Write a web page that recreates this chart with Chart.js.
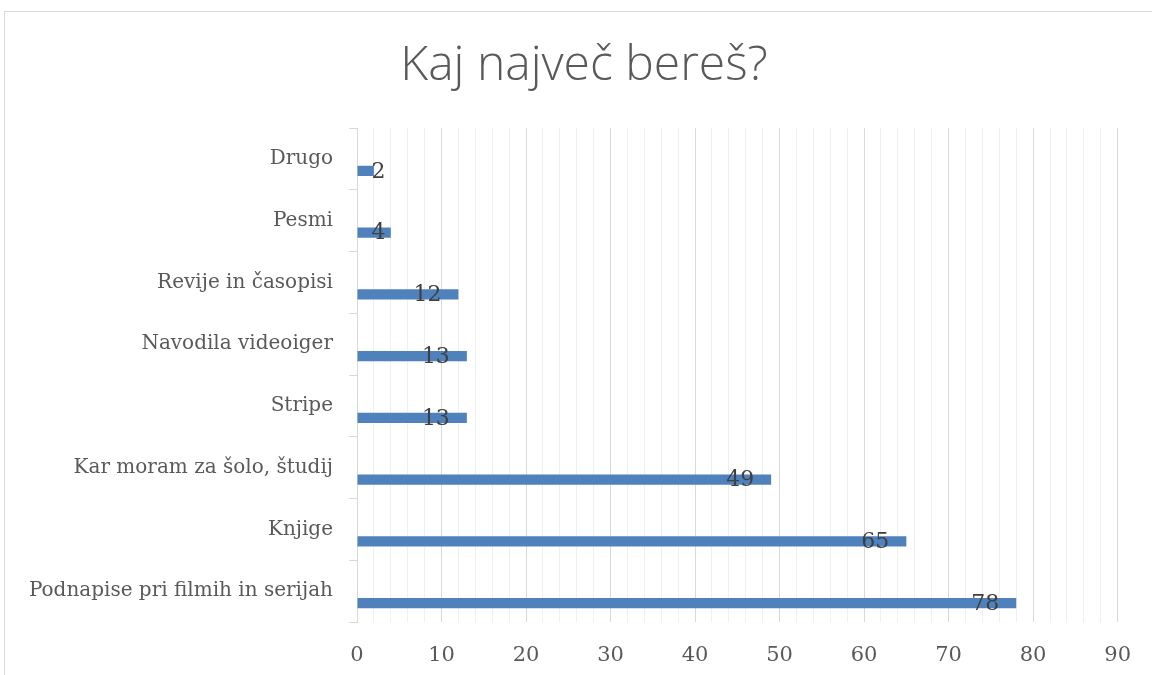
<!DOCTYPE html>
<html>
<head>
<meta charset="utf-8">
<title>Kaj največ bereš?</title>
<script src="https://cdn.jsdelivr.net/npm/chart.js@4.4.0/dist/chart.umd.min.js"></script>
<style>
	html, body { margin: 0; padding: 0; background: #fff; overflow: hidden; }
	#okvir {
		position: absolute; left: 4px; top: 11px; width: 1200px; height: 700px;
		border: 1px solid #d9d9d9;
	}
	#wrap { position: absolute; left: 0; top: 0; width: 1152px; height: 675px; }
</style>
</head>
<body>
<div id="okvir"></div>
<div id="wrap"><canvas id="graf"></canvas></div>
<script>
	// podatki
	var naslov = "Kaj največ bereš?";
	var kategorije = ["Drugo", "Pesmi", "Revije in časopisi", "Navodila videoiger", "Stripe",
		"Kar moram za šolo, študij", "Knjige", "Podnapise pri filmih in serijah"];
	var vrednosti = [2, 4, 12, 13, 13, 49, 65, 78];
	var prazno = [null, null, null, null, null, null, null, null];

	// naslov (sredina okvirja, ne grafa)
	var naslovPlugin = {
		id: "naslov",
		afterDraw: function (chart) {
			var ctx = chart.ctx;
			ctx.save();
			ctx.font = "300 48px 'Open Sans'";
			ctx.fillStyle = "#595959";
			ctx.textAlign = "center";
			ctx.textBaseline = "alphabetic";
			ctx.fillText(naslov, 584, 80);
			ctx.restore();
		}
	};

	// oznake vrednosti na koncu stolpca
	var oznake = {
		id: "oznake",
		afterDatasetsDraw: function (chart) {
			var ctx = chart.ctx;
			var meta = chart.getDatasetMeta(1);
			ctx.save();
			ctx.font = "22px 'DejaVu Serif'";
			ctx.fillStyle = "#404040";
			ctx.textBaseline = "middle";
			ctx.textAlign = "left";
			meta.data.forEach(function (bar, i) {
				var txt = String(vrednosti[i]);
				var w = ctx.measureText(txt).width;
				var x = bar.x - 17 - w;
				if (x < bar.base + 14) x = bar.base + 14;
				ctx.fillText(txt, x, bar.y + 1);
			});
			ctx.restore();
		}
	};

	new Chart(document.getElementById("graf"), {
		type: "bar",
		data: {
			labels: kategorije,
			datasets: [
				{ label: "", data: prazno, backgroundColor: "#4f81bd" },
				{ label: "Število", data: vrednosti, backgroundColor: "#4f81bd" }
			]
		},
		options: {
			indexAxis: "y",
			responsive: true,
			maintainAspectRatio: false,
			animation: false,
			datasets: { bar: { categoryPercentage: 0.78, barPercentage: 0.42 } },
			layout: { padding: { left: 0, right: 34, top: 128, bottom: 0 } },
			plugins: {
				legend: { display: false },
				tooltip: { enabled: false },
				title: { display: false }
			},
			scales: {
				x: {
					min: 0, max: 90,
					afterFit: function (s) { s.height = 53; },
					ticks: {
						stepSize: 2,
						autoSkip: false,
						maxRotation: 0,
						padding: 21,
						color: "#595959",
						font: { family: "'DejaVu Serif'", size: 21 },
						callback: function (v) { return v % 10 === 0 ? v : ""; }
					},
					grid: {
						drawTicks: false,
						color: function (c) {
							return (c.tick && c.tick.value % 10 === 0) ? "#d9d9d9" : "#f0f0f0";
						}
					},
					border: { display: false }
				},
				y: {
					afterFit: function (s) { s.width = 357; },
					ticks: {
						padding: 16,
						color: "#595959",
						font: { family: "'DejaVu Serif'", size: 20 }
					},
					grid: { drawOnChartArea: false, tickLength: 8, color: "#d9d9d9" },
					border: { display: true, color: "#d9d9d9" }
				}
			}
		},
		plugins: [oznake, naslovPlugin]
	});
</script>
</body>
</html>
